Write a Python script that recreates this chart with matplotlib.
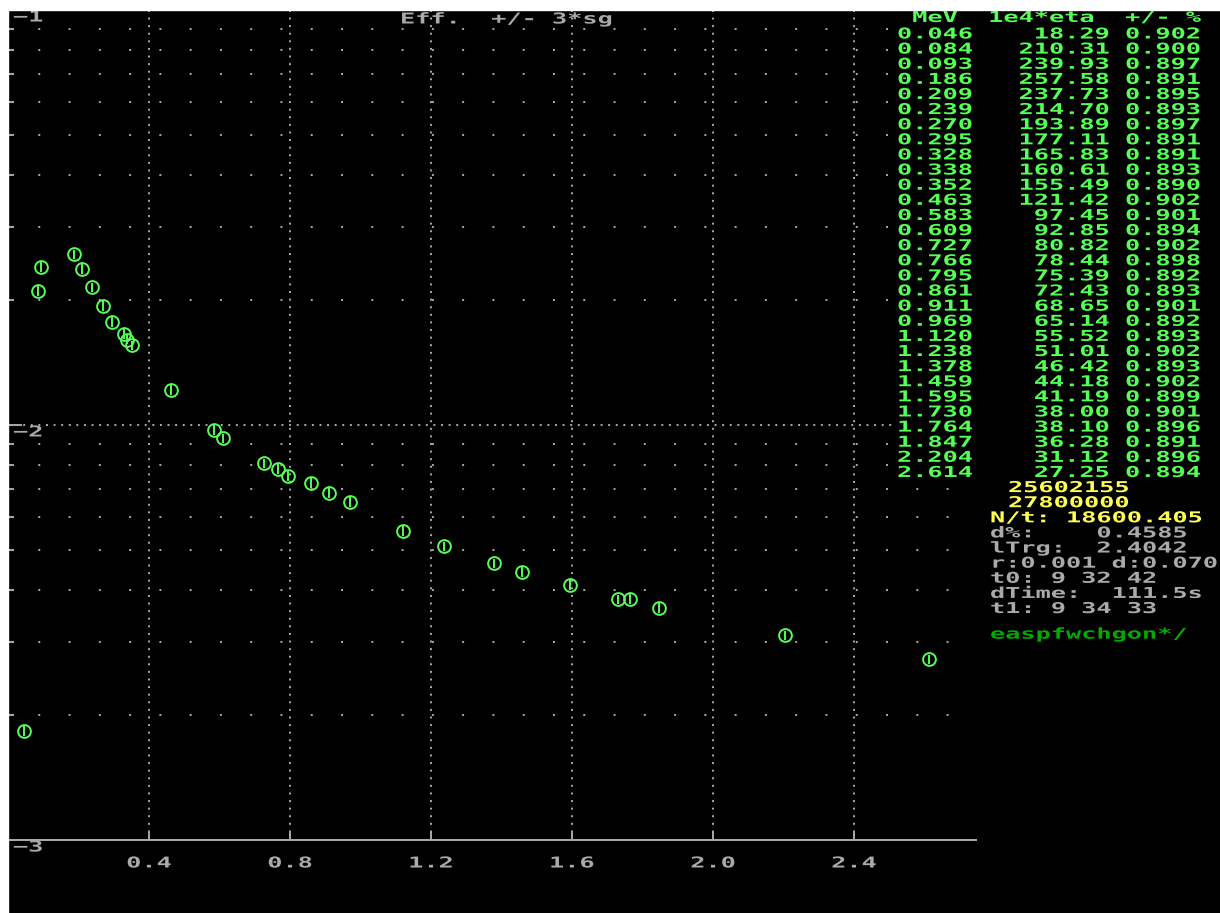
import numpy as np
import matplotlib
matplotlib.use("Agg")
import matplotlib.pyplot as plt
from matplotlib.patheffects import AbstractPathEffect
from matplotlib.transforms import Affine2D, ScaledTranslation, blended_transform_factory
from matplotlib.patches import Rectangle
from matplotlib.ticker import LogLocator

# efficiency table: energy (MeV), 1e4*eta, relative error (%)
energy = [0.046, 0.084, 0.093, 0.186, 0.209, 0.239, 0.270, 0.295, 0.328, 0.338,
          0.352, 0.463, 0.583, 0.609, 0.727, 0.766, 0.795, 0.861, 0.911, 0.969,
          1.120, 1.238, 1.378, 1.459, 1.595, 1.730, 1.764, 1.847, 2.204, 2.614]
eta_1e4 = [18.29, 210.31, 239.93, 257.58, 237.73, 214.70, 193.89, 177.11, 165.83, 160.61,
           155.49, 121.42, 97.45, 92.85, 80.82, 78.44, 75.39, 72.43, 68.65, 65.14,
           55.52, 51.01, 46.42, 44.18, 41.19, 38.00, 38.10, 36.28, 31.12, 27.25]
err_pct = [0.902, 0.900, 0.897, 0.891, 0.895, 0.893, 0.897, 0.891, 0.891, 0.893,
           0.890, 0.902, 0.901, 0.894, 0.902, 0.898, 0.892, 0.893, 0.901, 0.892,
           0.893, 0.902, 0.893, 0.902, 0.899, 0.901, 0.896, 0.891, 0.896, 0.894]

table_header = " MeV  1e4*eta  +/- %"
count_lines = ["25602155", "27800000"]
rate_line = "N/t: 18600.405"
info_lines = ["d%:    0.4585", "lTrg:  2.4042", "r:0.001 d:0.070",
              "t0: 9 32 42", "dTime:  111.5s", "t1: 9 34 33"]
flag_line = "easpfwchgon*/"
title = "Eff.  +/- 3*sg"

xticks = [0.4, 0.8, 1.2, 1.6, 2.0, 2.4]
ydecades = [-1, -2, -3]

GREEN = "#55ff55"
DKGREEN = "#00aa00"
YELLOW = "#ffff55"
GRAY = "#aaaaaa"
CYAN = "#00aaaa"

W, H, DPI = 1220, 913, 100
FS = 10.8                     # pt -> 15 px em
EM = FS * DPI / 72
SX = 15.2 / (0.602 * EM)      # widen mono glyphs to the 8x8 screen cell
ROW = 15.12

plt.rcParams["lines.scale_dashes"] = False


class Widen(AbstractPathEffect):
    """Stretch text glyphs horizontally (about the left edge or the centre)."""

    def __init__(self, sx, center=False):
        super().__init__()
        self.sx = sx
        self.center = center

    def draw_path(self, renderer, gc, tpath, affine, rgbFace=None):
        cx = 0.0
        if self.center:
            ext = tpath.get_extents()
            cx = 0.5 * (ext.x0 + ext.x1)
        t = Affine2D().translate(-cx, 0).scale(self.sx, 1).translate(cx, 0) + affine
        renderer.draw_path(gc, tpath, t, rgbFace)


def font_kw(color, center=False):
    return dict(color=color, fontsize=FS, family="DejaVu Sans Mono", weight="bold",
                va="baseline", ha="center" if center else "left",
                path_effects=[Widen(SX, center)])


def screen_text(x, y, s, color):
    # y is the glyph centre in pixels from the top
    fig.text(x / W, 1 - (y + 0.365 * EM) / H, s, **font_kw(color))


fig = plt.figure(figsize=(W / DPI, H / DPI), dpi=DPI, facecolor="black")
fig.add_artist(Rectangle((0, 1 - 10 / H), 1, 10 / H, transform=fig.transFigure,
                         color="white", zorder=10))
fig.add_artist(Rectangle((0, 0), 8 / W, 1, transform=fig.transFigure,
                         color="white", zorder=10))

ax = fig.add_axes([8 / W, 73 / H, 967.6 / W, 830 / H])
ax.set_facecolor("black")

eta = np.array(eta_1e4) * 1e-4
sg = eta * np.array(err_pct) / 100
ax.errorbar(energy, eta, yerr=3 * sg, fmt="o", ms=9.2, mfc="none", mec=GREEN, mew=1.4,
            ecolor=GREEN, elinewidth=1.4, capsize=0, zorder=3)

ax.set_yscale("log")
ax.set_ylim(1e-3, 1e-1)
ax.set_xlim(0, 2.745)
ax.set_xticks(xticks)
ax.xaxis.set_minor_locator(plt.NullLocator())
ax.yaxis.set_minor_locator(LogLocator(base=10, subs=np.arange(2, 10)))
ax.tick_params(which="both", direction="in", colors=GRAY, width=1.4,
               labelbottom=False, labelleft=False)
ax.tick_params(axis="x", length=5.8)
ax.tick_params(axis="y", which="major", length=10)
ax.tick_params(axis="y", which="minor", length=4.3)
for side in ["top", "right"]:
    ax.spines[side].set_visible(False)
for side in ["left", "bottom"]:
    ax.spines[side].set_color(GRAY)
    ax.spines[side].set_linewidth(1.4)

ax.set_axisbelow(True)
ax.grid(True, which="major", color=GRAY, lw=1.4, ls=(0, (1.4, 4.07)))
ax.grid(True, which="minor", axis="y", color=GRAY, lw=1.4, ls=(0, (1.4, 20.4)))

# axis labels drawn in the screen font
xlab_tr = blended_transform_factory(ax.transData, ax.transAxes) + \
    ScaledTranslation(0, -27.5 / DPI, fig.dpi_scale_trans)
for xv in xticks:
    ax.text(xv, 0, f"{xv:.1f}", transform=xlab_tr, **font_kw(GRAY, center=True))

ylab_tr = blended_transform_factory(ax.transAxes, ax.transData) + \
    ScaledTranslation(5 / DPI, -11.5 / DPI, fig.dpi_scale_trans)
for d in ydecades:
    ax.text(0, 10.0 ** d, f"{d}".replace("-", "\u2212"), transform=ylab_tr, **font_kw(GRAY))

screen_text(400, 18, title, GRAY)

# value table on the right
fig.add_artist(Rectangle((896 / W, 1 - 479 / H), (W - 896) / W, 469 / H,
                         transform=fig.transFigure, color="black", zorder=2))
x0 = 897
screen_text(x0, 16.5, table_header, GREEN)
for k, (e, v, p) in enumerate(zip(energy, eta_1e4, err_pct)):
    screen_text(x0, 33 + ROW * k, f"{e:5.3f}{v:9.2f} {p:5.3f}", GREEN)

y = 33 + ROW * len(energy)
for s in count_lines:
    screen_text(1008, y, s, YELLOW)
    y += ROW
screen_text(990, y, rate_line, YELLOW)
y += ROW
for s in info_lines:
    screen_text(990, y, s, GRAY)
    y += ROW
screen_text(990, y + 10.5, flag_line, DKGREEN)

fig.savefig("out.png", dpi=DPI, facecolor=fig.get_facecolor())
